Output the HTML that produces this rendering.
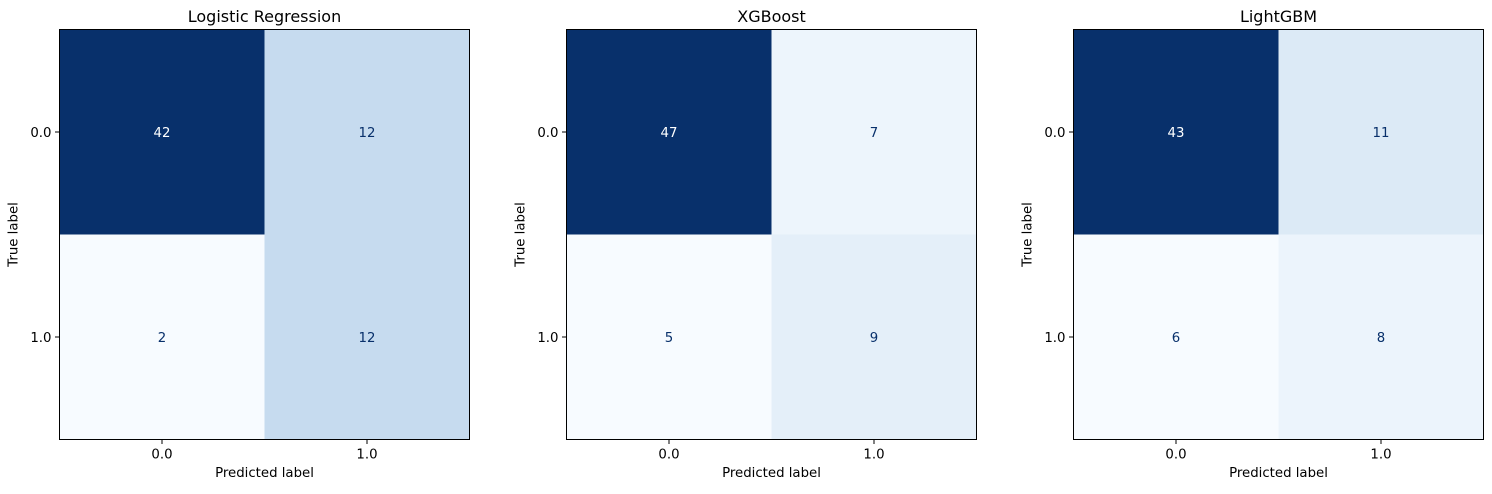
<!DOCTYPE html>
<html><head><meta charset="utf-8"><style>
body{margin:0;background:#fff;font-family:"Liberation Sans","DejaVu Sans",sans-serif;}
svg text{font-family:"DejaVu Sans","Liberation Sans",sans-serif;}
</style></head><body>
<svg id="c" width="1492" height="489" xmlns="http://www.w3.org/2000/svg"></svg>
<script>
const titles=["Logistic Regression","XGBoost","LightGBM"];
const classLabels=["0.0","1.0"];
const matLR=[[42,12],[2,12]];
const matXGB=[[47,7],[5,9]];
const matLGBM=[[43,11],[6,8]];
const mats=[matLR,matXGB,matLGBM];
const NS="http://www.w3.org/2000/svg";
const svg=document.getElementById('c');
const stops=["#f7fbff","#deebf7","#c6dbef","#9ecae1","#6baed6","#4292c6","#2171b5","#08519c","#08306b"];
function hx(h){return [1,3,5].map(i=>parseInt(h.substr(i,2),16));}
function blues(t){t=Math.max(0,Math.min(1,t));const p=t*8,i=Math.min(7,Math.floor(p)),f=p-i;const a=hx(stops[i]),b=hx(stops[i+1]);return "rgb("+a.map((v,k)=>Math.round(v+(b[k]-v)*f)).join(",")+")";}
function el(tag,attrs,txt){const e=document.createElementNS(NS,tag);for(const k in attrs)e.setAttribute(k,attrs[k]);if(txt!=null)e.textContent=txt;svg.appendChild(e);return e;}
const W=410,H=410,topY=29.5,lefts=[59.5,566.5,1073.5];
const FS=13.3;
mats.forEach((m,p)=>{
  const L=lefts[p];const flat=m.flat();const mn=Math.min(...flat),mx=Math.max(...flat);
  const cw=W/2,ch=H/2;
  const xS=j=>L+j*cw, yS=i=>topY+i*ch;
  for(let i=0;i<2;i++)for(let j=0;j<2;j++){
    const v=m[i][j],t=(v-mn)/(mx-mn);
    const r=el('rect',{x:xS(j),y:yS(i),width:cw,height:ch,fill:blues(t)});
    
    
    const tx=el('text',{x:xS(j)+cw/2,y:yS(i)+ch/2+4.8,'text-anchor':'middle','font-size':FS,fill:(v>(mn+mx)/2)?'#ffffff':'#08306b'},v);
    
    
  }
  const fr=el('rect',{x:L,y:topY,width:W,height:H,fill:'none',stroke:'#000','stroke-width':1});
  
  
  const tt=el('text',{x:L+W/2,y:22,'text-anchor':'middle','font-size':16,fill:'#000'},titles[p]);
  
  
  classLabels.forEach((c,k)=>{
    const x=xS(k)+cw/2,y=yS(k)+ch/2;
    el('line',{x1:x,x2:x,y1:topY+H,y2:topY+H+4.5,stroke:'#000'});
    const a=el('text',{x:x,y:topY+H+19,'text-anchor':'middle','font-size':FS},c);
    
    
    el('line',{x1:L-4.5,x2:L,y1:y,y2:y,stroke:'#000'});
    const b=el('text',{x:L-8,y:y+4.8,'text-anchor':'end','font-size':FS},c);
    
    
  });
  const xl=el('text',{x:L+W/2,y:477,'text-anchor':'middle','font-size':FS},'Predicted label');
  
  
  const yl=el('text',{x:0,y:0,'text-anchor':'middle','font-size':FS,transform:'translate('+(L-42)+','+(topY+H/2)+') rotate(-90)'},'True label');
  
  
});
</script>
</body></html>
